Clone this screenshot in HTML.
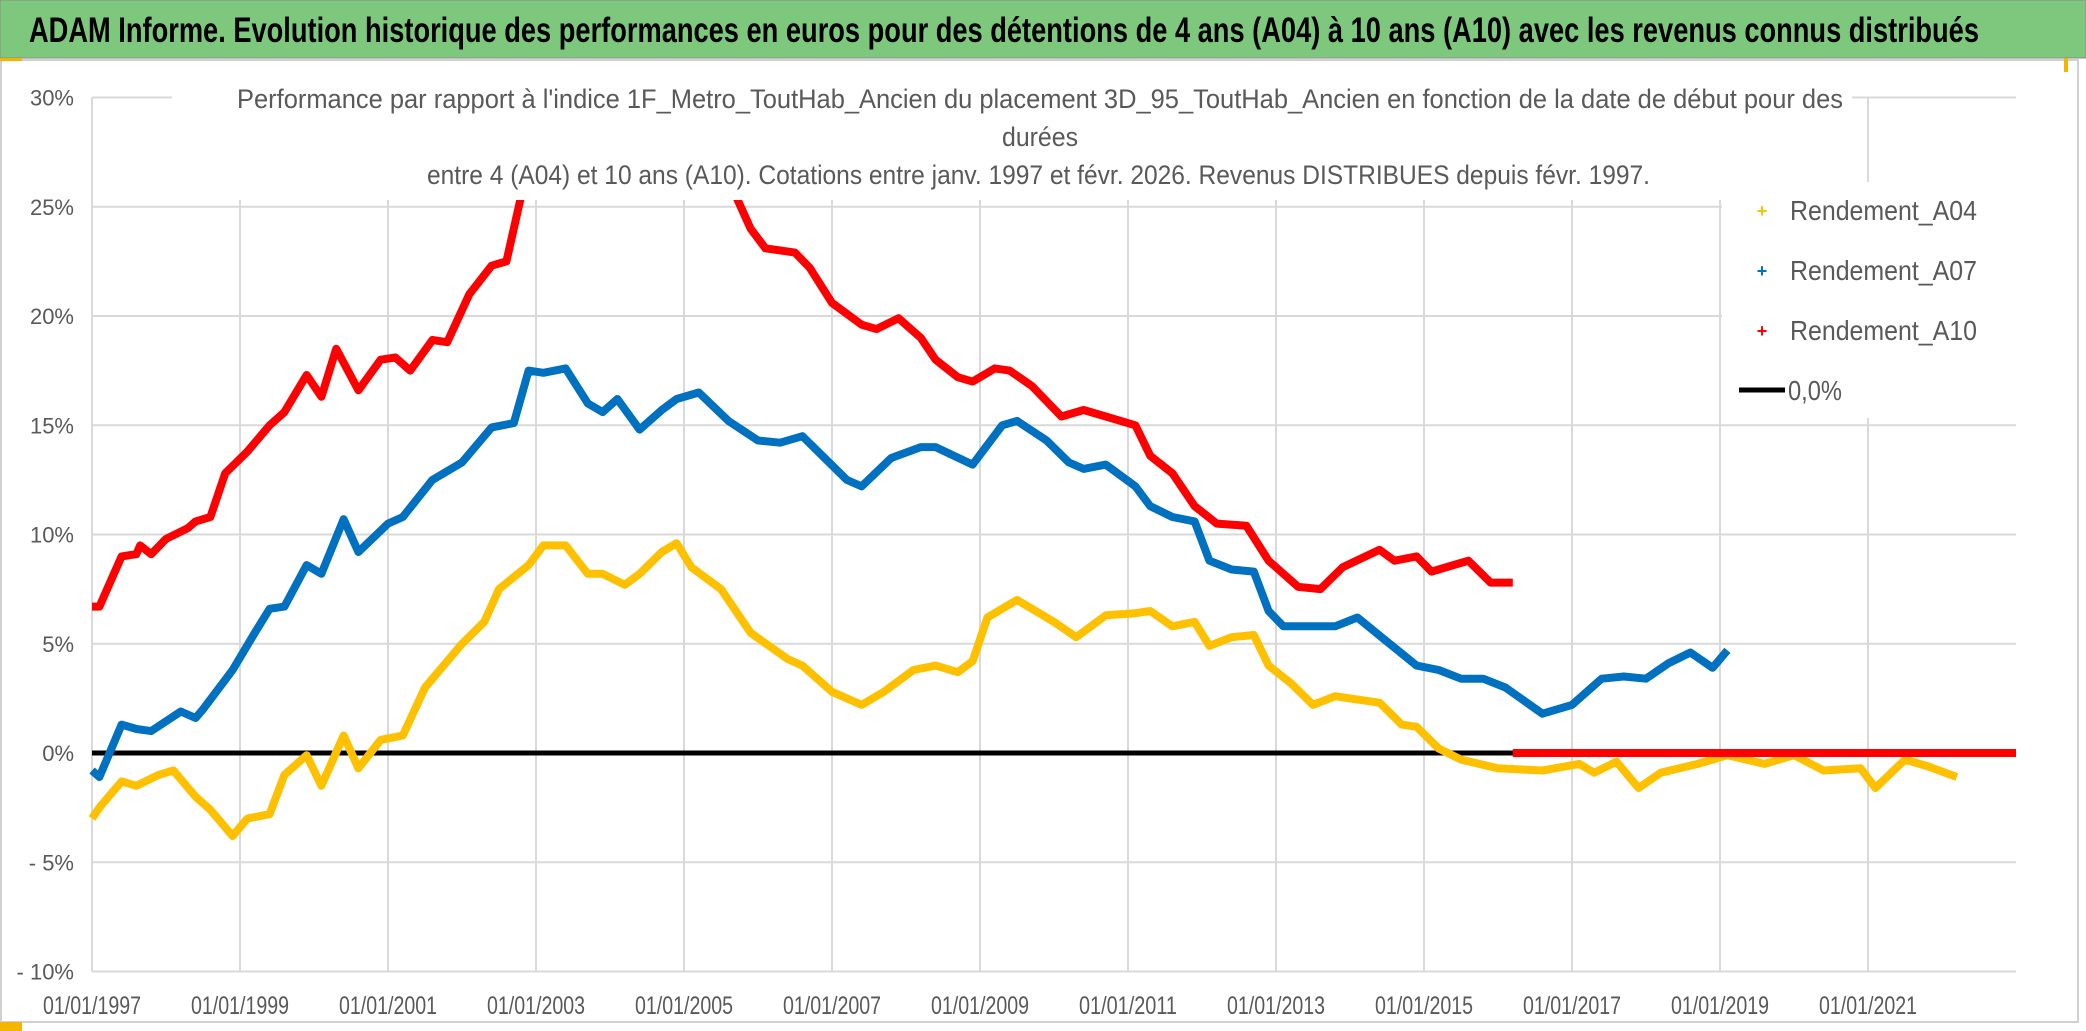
<!DOCTYPE html>
<html><head><meta charset="utf-8"><style>
html,body{margin:0;padding:0;background:#fff}
svg{display:block;font-family:"Liberation Sans",sans-serif}
</style></head><body>
<svg id="chart" width="2086" height="1031" xmlns="http://www.w3.org/2000/svg">
<rect x="0" y="0" width="2086" height="1031" fill="#fff"/>
<rect x="0" y="0" width="2086" height="58" fill="#7dc87d" stroke="#8a8a8a" stroke-width="1"/>
<text x="29" y="42" font-size="35" font-weight="bold" fill="#000" textLength="1950" lengthAdjust="spacingAndGlyphs">ADAM Informe. Evolution historique des performances en euros pour des détentions de 4 ans (A04) à 10 ans (A10) avec les revenus connus distribués</text>
<rect x="1" y="60" width="2077" height="962" fill="none" stroke="#d0d0d0" stroke-width="2"/>
<rect x="0" y="58" width="22" height="3" fill="#f5b400"/>
<rect x="0" y="1022" width="22" height="9" fill="#f5b400"/>
<rect x="2064" y="58" width="4" height="14" fill="#f5b400"/>
<g id="grid"></g>
<g id="series"></g>
<rect x="172" y="84" width="1680" height="116" fill="#fff"/>
<rect x="1722" y="182" width="294" height="236" fill="#fff"/>
<text x="237" y="108" font-size="27" fill="#595959" textLength="1606" lengthAdjust="spacingAndGlyphs">Performance par rapport à l'indice 1F_Metro_ToutHab_Ancien  du placement 3D_95_ToutHab_Ancien en fonction de la date de début pour des</text>
<text x="1040" y="146" font-size="27" fill="#595959" text-anchor="middle" textLength="76" lengthAdjust="spacingAndGlyphs">durées</text>
<text x="427" y="184" font-size="27" fill="#595959" textLength="1223" lengthAdjust="spacingAndGlyphs">entre 4 (A04) et 10 ans (A10). Cotations entre janv. 1997 et févr. 2026. Revenus DISTRIBUES depuis févr. 1997.</text>
<g id="legend"></g>
</svg>
<script>
const yTicks=[30,25,20,15,10,5,0,-5,-10];
const yTickLabels=["30%","25%","20%","15%","10%","5%","0%","- 5%","- 10%"];
const xTicks=[1997,1999,2001,2003,2005,2007,2009,2011,2013,2015,2017,2019,2021];
const xTickLabels=["01/01/1997","01/01/1999","01/01/2001","01/01/2003","01/01/2005","01/01/2007","01/01/2009","01/01/2011","01/01/2013","01/01/2015","01/01/2017","01/01/2019","01/01/2021"];
const a04Dates=[1997.0,1997.1,1997.4,1997.6,1997.9,1998.1,1998.4,1998.6,1998.9,1999.1,1999.4,1999.6,1999.9,2000.1,2000.4,2000.6,2000.9,2001.2,2001.5,2002.0,2002.3,2002.5,2002.9,2003.1,2003.4,2003.7,2003.9,2004.2,2004.4,2004.7,2004.9,2005.1,2005.5,2005.9,2006.4,2006.6,2007.0,2007.4,2007.7,2008.1,2008.4,2008.7,2008.9,2009.1,2009.5,2010.0,2010.3,2010.7,2011.1,2011.3,2011.6,2011.9,2012.1,2012.4,2012.7,2012.9,2013.2,2013.5,2013.8,2014.0,2014.4,2014.7,2014.9,2015.2,2015.5,2016.0,2016.6,2017.1,2017.3,2017.6,2017.9,2018.2,2018.7,2019.1,2019.6,2020.0,2020.4,2020.9,2021.1,2021.5,2021.8,2022.2];
const a04Values=[-3.0,-2.5,-1.3,-1.5,-1.0,-0.8,-2.0,-2.6,-3.8,-3.0,-2.8,-1.0,-0.1,-1.5,0.8,-0.7,0.6,0.8,3.0,5.0,6.0,7.5,8.6,9.5,9.5,8.2,8.2,7.7,8.2,9.2,9.6,8.5,7.5,5.5,4.3,4.0,2.8,2.2,2.8,3.8,4.0,3.7,4.2,6.2,7.0,6.0,5.3,6.3,6.4,6.5,5.8,6.0,4.9,5.3,5.4,4.0,3.2,2.2,2.6,2.5,2.3,1.3,1.2,0.2,-0.3,-0.7,-0.8,-0.5,-0.9,-0.4,-1.6,-0.9,-0.5,-0.1,-0.5,-0.1,-0.8,-0.7,-1.6,-0.3,-0.6,-1.1];
const a07Dates=[1997.0,1997.1,1997.4,1997.6,1997.8,1998.2,1998.4,1998.5,1998.9,1999.2,1999.4,1999.6,1999.9,2000.1,2000.4,2000.6,2001.0,2001.2,2001.6,2002.0,2002.4,2002.7,2002.9,2003.1,2003.4,2003.7,2003.9,2004.1,2004.4,2004.7,2004.9,2005.2,2005.6,2006.0,2006.3,2006.6,2006.9,2007.2,2007.4,2007.8,2008.2,2008.4,2008.9,2009.3,2009.5,2009.9,2010.2,2010.4,2010.7,2011.1,2011.3,2011.6,2011.9,2012.1,2012.4,2012.7,2012.9,2013.1,2013.5,2013.8,2014.1,2014.5,2014.9,2015.2,2015.5,2015.8,2016.1,2016.6,2017.0,2017.4,2017.7,2018.0,2018.3,2018.6,2018.9,2019.1];
const a07Values=[-0.8,-1.1,1.3,1.1,1.0,1.9,1.6,2.0,3.8,5.5,6.6,6.7,8.6,8.2,10.7,9.2,10.5,10.8,12.5,13.3,14.9,15.1,17.5,17.4,17.6,16.0,15.6,16.2,14.8,15.7,16.2,16.5,15.2,14.3,14.2,14.5,13.5,12.5,12.2,13.5,14.0,14.0,13.2,15.0,15.2,14.3,13.3,13.0,13.2,12.2,11.3,10.8,10.6,8.8,8.4,8.3,6.5,5.8,5.8,5.8,6.2,5.1,4.0,3.8,3.4,3.4,3.0,1.8,2.2,3.4,3.5,3.4,4.1,4.6,3.9,4.7];
const a10Dates=[1997.0,1997.1,1997.4,1997.6,1997.65,1997.8,1998.0,1998.3,1998.4,1998.6,1998.8,1999.1,1999.4,1999.6,1999.9,2000.1,2000.3,2000.6,2000.9,2001.1,2001.3,2001.6,2001.8,2002.1,2002.4,2002.6,2002.8,2003.2,2004.5,2005.7,2005.9,2006.1,2006.5,2006.7,2007.0,2007.4,2007.6,2007.9,2008.2,2008.4,2008.7,2008.9,2009.2,2009.4,2009.7,2010.1,2010.4,2010.7,2011.1,2011.3,2011.6,2011.9,2012.2,2012.6,2012.9,2013.3,2013.6,2013.9,2014.4,2014.6,2014.9,2015.1,2015.5,2015.6,2015.9,2016.2];
const a10Values=[6.7,6.7,9.0,9.1,9.5,9.1,9.8,10.3,10.6,10.8,12.8,13.8,15.0,15.6,17.3,16.3,18.5,16.6,18.0,18.1,17.5,18.9,18.8,21.0,22.3,22.5,25.5,28.0,28.0,25.5,24.0,23.1,22.9,22.2,20.6,19.6,19.4,19.9,19.0,18.0,17.2,17.0,17.6,17.5,16.8,15.4,15.7,15.4,15.0,13.6,12.8,11.3,10.5,10.4,8.8,7.6,7.5,8.5,9.3,8.8,9.0,8.3,8.7,8.8,7.8,7.8];
const a10ZeroDates=[2016.2,2023.0];
const a10ZeroValues=[0,0];
const zeroDates=[1997.0,2023.0];
const zeroValues=[0,0];

const NS="http://www.w3.org/2000/svg";
const X0=92,X1=2016,XMIN=1997,XMAX=2023,Y0=97.5,Y1=971.5,YMAX=30,YMIN=-10;
function xs(v){return X0+(v-XMIN)/(XMAX-XMIN)*(X1-X0);}
function ys(v){return Y0+(YMAX-v)/(YMAX-YMIN)*(Y1-Y0);}
function mk(tag,attrs,parent){const e=document.createElementNS(NS,tag);for(const k in attrs)e.setAttribute(k,attrs[k]);parent.appendChild(e);return e;}
const grid=document.getElementById('grid');
yTicks.forEach((t,i)=>{
  const l=mk('line',{x1:X0,x2:X1,y1:ys(t),y2:ys(t),stroke:'#d9d9d9','stroke-width':2},grid);
  
  
  const tx=mk('text',{x:74,y:ys(t)+8,'font-size':22,fill:'#595959','text-anchor':'end'},grid);
  tx.textContent=yTickLabels[i];
  
  
});
xTicks.forEach((t,i)=>{
  const l=mk('line',{x1:xs(t),x2:xs(t),y1:Y0,y2:Y1,stroke:'#d9d9d9','stroke-width':2},grid);
  
  
  const tx=mk('text',{x:xs(t),y:1014,'font-size':25,fill:'#595959','text-anchor':'middle',textLength:98,lengthAdjust:'spacingAndGlyphs'},grid);
  tx.textContent=xTickLabels[i];
  
  
});
const ser=document.getElementById('series');
function line(d,v,color,w,name){
  const pts=d.map((x,i)=>xs(x).toFixed(1)+','+ys(v[i]).toFixed(1)).join(' ');
  const p=mk('polyline',{points:pts,fill:'none',stroke:color,'stroke-width':w,'stroke-linejoin':'round','stroke-linecap':'butt'},ser);
  
  
}
line(zeroDates,zeroValues,'#000',5,'zero-line');
line(a04Dates,a04Values,'#ffc000',8,'series-a04');
line(a07Dates,a07Values,'#0070c0',8,'series-a07');
line(a10Dates,a10Values,'#ff0000',8,'series-a10');
line(a10ZeroDates,a10ZeroValues,'#ff0000',8,'series-a10-zero');

const leg=document.getElementById('legend');
const legNames=["Rendement_A04","Rendement_A07","Rendement_A10"];
const legColors=["#ffc000","#0070c0","#ff0000"];
legNames.forEach((n,i)=>{
  const y=210+i*60;
  const g=mk('g',{},leg);
  
  
  const m=mk('text',{x:1762,y:y+7,'font-size':18,fill:legColors[i],'text-anchor':'middle','font-weight':'bold'},g);
  m.textContent='+';
  
  
  const t=mk('text',{x:1790,y:y+10,'font-size':28,fill:'#595959',textLength:187,lengthAdjust:'spacingAndGlyphs'},g);
  t.textContent=n;
  
  
});
const g0=mk('g',{},leg);


const l0=mk('line',{x1:1739,x2:1785,y1:390,y2:390,stroke:'#000','stroke-width':5},g0);


const t0=mk('text',{x:1788,y:400,'font-size':28,fill:'#595959',textLength:54,lengthAdjust:'spacingAndGlyphs'},g0);
t0.textContent='0,0%';


</script>
</body></html>
